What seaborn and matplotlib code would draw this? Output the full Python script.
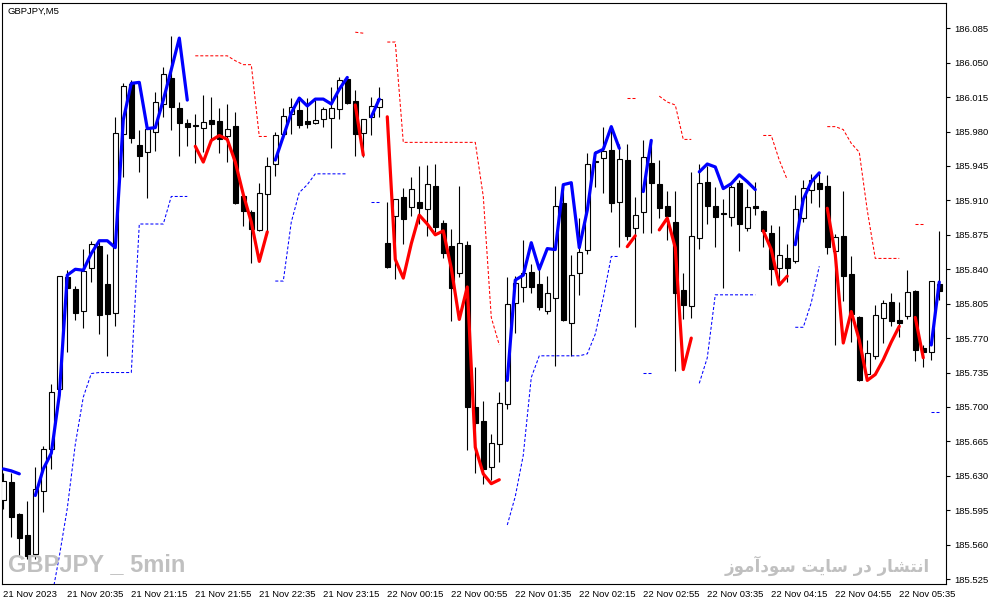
import numpy as np
import matplotlib
matplotlib.use("Agg")
import matplotlib.pyplot as plt
import seaborn as sns

nan = np.nan

# GBPJPY M5 bars (118 bars, 21 Nov 19:55 -> 22 Nov 05:45)
opens = [
    185.605, 185.624, 185.591, 185.570, 185.551, 185.615, 185.657, 185.718, 185.832, 185.820,
    185.798, 185.841, 185.864, 185.825, 185.796, 185.977, 186.028, 185.966, 185.959, 185.980,
    186.008, 186.034, 186.004, 185.989, 185.987, 185.984, 185.992, 185.991, 185.975, 185.986,
    185.914, 185.898, 185.880, 185.916, 185.947, 185.978, 185.998, 186.002, 185.991, 185.989,
    185.993, 185.994, 186.003, 186.033, 186.011, 185.979, 185.995, 186.005, 185.867, 185.894,
    185.913, 185.903, 185.908, 185.901, 185.925, 185.887, 185.864, 185.836, 185.865, 185.700,
    185.686, 185.639, 185.662, 185.703, 185.806, 185.822, 185.837, 185.825, 185.798, 185.811,
    185.907, 185.785, 185.836, 185.860, 185.950, 185.953, 185.961, 185.908, 185.951, 185.882,
    185.898, 185.948, 185.927, 185.904, 185.888, 185.819, 185.803, 185.872, 185.929, 185.904,
    185.897, 185.893, 185.928, 185.882, 185.904, 185.899, 185.877, 185.841, 185.851, 185.848,
    185.892, 185.921, 185.928, 185.925, 185.859, 185.874, 185.835, 185.791, 185.733, 185.752,
    185.790, 185.807, 185.788, 185.792, 185.818, 185.760, 185.756, 185.825,
]
highs = [
    185.633, 185.633, 185.592, 185.604, 185.639, 185.660, 185.723, 185.833, 185.839, 185.823,
    185.861, 185.869, 185.869, 185.856, 185.995, 186.029, 186.032, 185.982, 185.984, 186.020,
    186.046, 186.077, 186.010, 185.993, 185.998, 186.017, 186.015, 186.004, 186.008, 186.000,
    185.919, 185.900, 185.928, 185.954, 185.980, 186.004, 186.014, 186.012, 186.014, 186.012,
    186.005, 186.025, 186.035, 186.035, 186.022, 185.993, 186.015, 186.025, 185.908, 185.911,
    185.923, 185.934, 185.945, 185.946, 185.947, 185.890, 185.881, 185.925, 185.869, 185.741,
    185.706, 185.673, 185.715, 185.832, 185.833, 185.870, 185.845, 185.844, 185.833, 185.925,
    185.926, 185.854, 185.892, 185.958, 185.960, 185.985, 185.985, 185.967, 185.967, 185.913,
    185.971, 185.971, 185.951, 185.920, 185.920, 185.836, 185.939, 185.947, 185.945, 185.924,
    185.911, 185.926, 185.931, 185.922, 185.929, 185.900, 185.885, 185.884, 185.866, 185.915,
    185.931, 185.937, 185.938, 185.936, 185.876, 185.920, 185.853, 185.792, 185.768, 185.804,
    185.809, 185.816, 185.807, 185.839, 185.819, 185.763, 185.828, 185.879,
]
lows = [
    185.596, 185.568, 185.548, 185.545, 185.545, 185.593, 185.637, 185.715, 185.756, 185.788,
    185.780, 185.827, 185.774, 185.752, 185.782, 185.934, 185.968, 185.939, 185.912, 185.960,
    185.995, 185.982, 185.955, 185.965, 185.948, 185.959, 185.972, 185.958, 185.949, 185.906,
    185.884, 185.846, 185.879, 185.879, 185.935, 185.973, 185.977, 185.984, 185.984, 185.988,
    185.985, 185.963, 185.993, 186.008, 185.955, 185.954, 185.976, 185.995, 185.841, 185.830,
    185.866, 185.894, 185.886, 185.874, 185.878, 185.851, 185.787, 185.832, 185.656, 185.633,
    185.622, 185.626, 185.644, 185.698, 185.775, 185.807, 185.816, 185.799, 185.795, 185.742,
    185.787, 185.752, 185.814, 185.855, 185.924, 185.918, 185.898, 185.863, 185.870, 185.781,
    185.877, 185.877, 185.892, 185.870, 185.737, 185.789, 185.790, 185.861, 185.886, 185.863,
    185.821, 185.884, 185.859, 185.879, 185.895, 185.863, 185.824, 185.824, 185.827, 185.846,
    185.888, 185.907, 185.903, 185.855, 185.763, 185.808, 185.766, 185.726, 185.731, 185.749,
    185.765, 185.782, 185.771, 185.789, 185.747, 185.741, 185.748, 185.809,
]
closes = [
    185.625, 185.588, 185.567, 185.548, 185.617, 185.657, 185.715, 185.833, 185.821, 185.796,
    185.838, 185.866, 185.793, 185.795, 185.979, 186.026, 185.973, 185.955, 185.983, 186.010,
    186.039, 186.005, 185.989, 185.985, 185.986, 185.990, 185.988, 185.972, 185.983, 185.907,
    185.899, 185.881, 185.918, 185.945, 185.976, 185.996, 186.005, 185.987, 185.988, 185.992,
    186.003, 186.004, 186.032, 186.009, 185.978, 185.993, 186.006, 186.013, 185.842, 185.911,
    185.891, 185.922, 185.902, 185.927, 185.883, 185.857, 185.821, 185.867, 185.700, 185.684,
    185.637, 185.663, 185.704, 185.805, 185.826, 185.836, 185.822, 185.802, 185.816, 185.904,
    185.788, 185.834, 185.858, 185.947, 185.949, 185.960, 185.907, 185.952, 185.874, 185.895,
    185.954, 185.928, 185.902, 185.894, 185.816, 185.804, 185.874, 185.928, 185.904, 185.893,
    185.896, 185.924, 185.886, 185.903, 185.902, 185.879, 185.840, 185.854, 185.841, 185.901,
    185.923, 185.931, 185.922, 185.863, 185.873, 185.833, 185.794, 185.727, 185.755, 185.793,
    185.806, 185.787, 185.785, 185.817, 185.758, 185.756, 185.828, 185.818,
]

# thick trend line (blue = up, red = down)
trend_line = [
    185.637, 185.635, 185.632, nan, 185.610, 185.637, 185.653, 185.712, 185.834, 185.840,
    185.839, 185.856, 185.869, 185.869, 185.862, 185.992, 186.029, 186.030, 185.983, 185.984,
    186.012, 186.043, 186.075, 186.012, 185.965, 185.949, 185.971, 185.976, 185.972, 185.949,
    185.916, 185.888, 185.848, 185.878, 185.951, 185.975, 185.999, 186.014, 186.006, 186.013,
    186.013, 186.008, 186.023, 186.035, 186.007, 185.956, 185.995, 186.013, 185.995, 185.850,
    185.831, 185.866, 185.895, 185.886, 185.875, 185.879, 185.841, 185.789, 185.822, 185.659,
    185.632, 185.622, 185.626, 185.727, 185.829, 185.834, 185.867, 185.840, 185.861, 185.860,
    185.926, 185.928, 185.862, 185.900, 185.958, 185.962, 185.985, 185.963, 185.863, 185.874,
    185.919, 185.971, 185.880, 185.892, 185.862, 185.738, 185.770, 185.939, 185.947, 185.944,
    185.922, 185.927, 185.936, 185.929, 185.921, 185.879, 185.860, 185.824, 185.833, 185.865,
    185.911, 185.929, 185.938, 185.902, 185.855, 185.765, 185.797, 185.768, 185.727, 185.733,
    185.748, 185.766, 185.782, 185.789, 185.791, 185.750, 185.763, 185.827,
]
trend_dir = ("UUUUUUUUUUUUUUUUUUUUUUUU" "DDDDDDDDDD" "UUUUUUUUUU" "DD" "UU"
             "DDDDDDDDDDDDDDD" "UUUUUUUUUUUUUUU" "DD" "UU" "DDDDD" "UUUUUUUU"
             "DDDD" "UUUU" "DDDDDDDDDD" "U" "DD" "UU")

# dotted stop levels (red above price, blue below)
stop_upper = [
    nan, nan, nan, nan, nan, nan, nan, nan, nan, nan,
    nan, nan, nan, nan, nan, nan, nan, nan, nan, nan,
    nan, nan, nan, nan, 186.057, 186.057, 186.057, 186.057, 186.057, 186.052,
    186.048, 186.048, 185.975, 185.975, nan, nan, nan, nan, nan, nan,
    nan, nan, nan, nan, 186.081, 186.080, nan, nan, 186.071, 186.071,
    185.969, 185.969, 185.969, 185.969, 185.969, 185.969, 185.969, 185.969, 185.969, 185.969,
    185.914, 185.791, 185.763, nan, nan, nan, nan, nan, nan, nan,
    nan, nan, nan, nan, nan, nan, nan, nan, 186.014, 186.014,
    nan, nan, 186.016, 186.010, 186.007, 185.972, 185.972, nan, nan, nan,
    nan, nan, nan, nan, nan, 185.976, 185.976, 185.951, 185.931, nan,
    nan, nan, nan, 185.985, 185.985, 185.982, 185.968, 185.959, 185.900, 185.851,
    185.851, 185.851, 185.851, nan, 185.886, 185.886, nan, nan,
]
stop_lower = [
    nan, nan, nan, nan, nan, nan, 185.504, 185.548, 185.597, 185.662,
    185.710, 185.734, 185.735, 185.735, 185.735, 185.735, 185.735, 185.886, 185.886, 185.886,
    185.886, 185.914, 185.914, 185.914, nan, nan, nan, nan, nan, nan,
    nan, nan, nan, nan, 185.828, 185.828, 185.888, 185.918, 185.926, 185.937,
    185.937, 185.937, 185.937, 185.937, nan, nan, 185.908, 185.908, nan, nan,
    nan, nan, nan, nan, nan, nan, nan, nan, nan, nan,
    nan, nan, nan, 185.580, 185.609, 185.651, 185.730, 185.752, 185.752, 185.752,
    185.752, 185.752, 185.752, 185.754, 185.774, 185.811, 185.853, 185.853, nan, nan,
    185.735, 185.735, nan, nan, nan, nan, nan, 185.724, 185.750, 185.814,
    185.814, 185.814, 185.814, 185.814, 185.814, nan, nan, nan, nan, 185.781,
    185.781, 185.806, 185.843, nan, nan, nan, nan, nan, nan, nan,
    nan, nan, nan, nan, nan, nan, 185.695, 185.695,
]

time_labels = ["21 Nov 2023", "21 Nov 20:35", "21 Nov 21:15", "21 Nov 21:55",
               "21 Nov 22:35", "21 Nov 23:15", "22 Nov 00:15", "22 Nov 00:55",
               "22 Nov 01:35", "22 Nov 02:15", "22 Nov 02:55", "22 Nov 03:35",
               "22 Nov 04:15", "22 Nov 04:55", "22 Nov 05:35"]
time_label_bars = [0, 8, 16, 24, 32, 40, 48, 56, 64, 72, 80, 88, 96, 104, 112]
price_ticks = [185.525, 185.560, 185.595, 185.630, 185.665, 185.700, 185.735, 185.770,
               185.805, 185.840, 185.875, 185.910, 185.945, 185.980, 186.015, 186.050,
               186.085]

# "انتشار در سایت سودآموز" in presentation forms, visual order (no bidi shaping in matplotlib)
site_note = ("\uFEAF\uFEEE\uFEE3\uFE81\uFEA9\uFEEE\uFEB3 "
             "\uFE96\uFEF3\uFE8E\uFEB3 "
             "\uFEAD\uFEA9 "
             "\uFEAD\uFE8E\uFEB8\uFE98\uFEE7\uFE8D")


def runs(mask):
    """(start, stop) pairs of consecutive True entries"""
    out = []
    start = None
    for i, m in enumerate(mask):
        if m and start is None:
            start = i
        elif not m and start is not None:
            out.append((start, i))
            start = None
    if start is not None:
        out.append((start, len(mask)))
    return out


def draw_runs(ax, xs, ys, mask, **kw):
    for a, b in runs(mask):
        if b - a < 2:
            continue
        sns.lineplot(x=xs[a:b], y=ys[a:b], ax=ax, estimator=None, sort=False,
                     legend=False, **kw)


sns.set_style("white")
plt.rcParams['font.family'] = ['Liberation Sans', 'DejaVu Sans']

fig = plt.figure(figsize=(9.91, 6.05), dpi=100)
ax = fig.add_axes([0.00252, 0.03471, 0.95157, 0.96083])

x = np.arange(len(opens))
o = np.array(opens)
h = np.array(highs)
l = np.array(lows)
c = np.array(closes)
bull = c > o

ax.vlines(x, l, h, color='black', lw=0.8, zorder=2)
ax.bar(x, np.abs(c - o), bottom=np.minimum(o, c), width=0.6,
       color=np.where(bull, 'white', 'black'), edgecolor='black',
       linewidth=0.8, zorder=3)

tl = np.array(trend_line)
tdir = np.array(list(trend_dir))
valid = ~np.isnan(tl)
draw_runs(ax, x, tl, valid & (tdir == 'U'), color='#0000ff', lw=2.3, zorder=5)
draw_runs(ax, x, tl, valid & (tdir == 'D'), color='#ff0000', lw=2.3, zorder=5)

su = np.array(stop_upper)
sd = np.array(stop_lower)
draw_runs(ax, x, su, ~np.isnan(su), color='#ff0000', lw=0.75,
          linestyle=(0, (2.9, 1.9)), zorder=4)
draw_runs(ax, x, sd, ~np.isnan(sd), color='#0000ff', lw=0.75,
          linestyle=(0, (2.9, 1.9)), zorder=4)

ax.set_xlim(-0.1, 117.78)
ax.set_ylim(185.520, 186.111)

ax.yaxis.tick_right()
ax.set_yticks(price_ticks)
ax.set_yticklabels(["%.3f" % p for p in price_ticks])
ax.set_xticks(time_label_bars)
ax.set_xticklabels(time_labels, ha='left')
ax.tick_params(axis='both', which='both', direction='out', length=3, width=0.8,
               colors='black', labelsize=6.8, pad=1.5)
ax.tick_params(axis='y', pad=3)
ax.set_xlabel("")
ax.set_ylabel("")
for s in ax.spines.values():
    s.set_color('black')
    s.set_linewidth(0.8)

fig.text(7 / 991, 1 - 11 / 605, "GBPJPY,M5", fontsize=6.8, color='black',
         ha='left', va='center')
fig.text(8 / 991, 1 - 565 / 605, "GBPJPY _ 5min", fontsize=17, fontweight='bold',
         family=['Liberation Sans', 'DejaVu Sans'],
         color='#c0c0c0', ha='left', va='center')
fig.text(930 / 991, 1 - 566 / 605, site_note, fontsize=12, fontweight='bold',
         family=['DejaVu Sans'], color='#c0c0c0', ha='right', va='center')

fig.savefig("out.png", dpi=100, facecolor='white')
